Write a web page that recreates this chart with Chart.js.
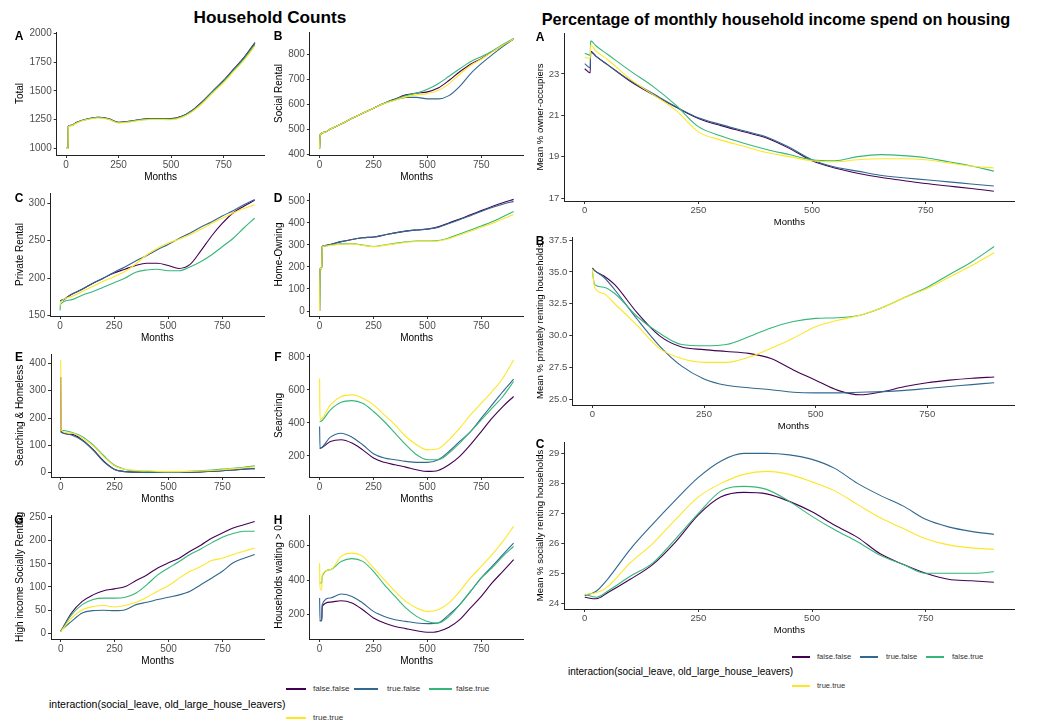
<!DOCTYPE html>
<html>
<head>
<meta charset="utf-8">
<script src="https://cdn.jsdelivr.net/npm/chart.js@4.4.1/dist/chart.umd.min.js"></script>
<style>
  html,body{margin:0;padding:0;background:#fff;}
  body{position:relative;width:1037px;height:724px;overflow:hidden;font-family:"Liberation Sans",Arial,sans-serif;}
  canvas{position:absolute;}
  .lbl{position:absolute;white-space:nowrap;line-height:1;color:#000;}
  .ttl{font-weight:bold;transform:translate(-50%,-50%);}
  .tag{font-weight:bold;font-size:12px;transform:translate(-50%,-50%);z-index:5;}
  .key{position:absolute;height:1.3px;}
  .ktx{position:absolute;color:#333;transform:translateY(-50%);white-space:nowrap;line-height:1;}
  .ltl{position:absolute;transform:translateY(-50%);white-space:nowrap;line-height:1;color:#000;}
</style>
</head>
<body>
<div class="lbl ttl" style="left:270px;top:18px;font-size:17.2px">Household Counts</div>
<div class="lbl ttl" style="left:776px;top:19px;font-size:16.3px">Percentage of monthly household income spend on housing</div>
<div class="lbl tag" style="left:19px;top:36px">A</div>
<div class="lbl tag" style="left:278px;top:36px">B</div>
<div class="lbl tag" style="left:19px;top:198px">C</div>
<div class="lbl tag" style="left:278px;top:198px">D</div>
<div class="lbl tag" style="left:19px;top:357px">E</div>
<div class="lbl tag" style="left:278px;top:357px">F</div>
<div class="lbl tag" style="left:19px;top:520px">G</div>
<div class="lbl tag" style="left:278px;top:520px">H</div>
<div class="lbl tag" style="left:540px;top:37px">A</div>
<div class="lbl tag" style="left:540px;top:241px">B</div>
<div class="lbl tag" style="left:540px;top:444px">C</div>
<script>
// series names and colours (viridis, 4 levels)
const LEGEND = ['false.false','true.false','false.true','true.true'];
const COLORS = ['#440154','#31688E','#35B779','#FDE725'];
const XTICKS = [0,250,500,750];

// A: Total
const totalX  = [0,9,10,25,50,100,150,200,250,300,350,400,450,500,550,600,650,700,750,800,850,900];
const totalFF = [1000,1000,1190,1200,1226,1255,1270,1258,1226,1235,1249,1258,1258,1258,1278,1330,1408,1500,1590,1692,1795,1920];
const totalTF = [1000,1000,1190,1200,1225,1254,1269,1257,1225,1234,1248,1257,1257,1257,1276,1327,1404,1496,1585,1687,1790,1912];
const totalFT = [1000,1000,1188,1198,1223,1253,1268,1255,1223,1232,1245,1254,1254,1253,1273,1323,1398,1490,1578,1678,1780,1900];
const totalTT = [1000,1000,1185,1195,1220,1250,1264,1252,1220,1228,1242,1250,1250,1249,1268,1317,1392,1484,1570,1670,1770,1890];
const totalTicks = [1000,1250,1500,1750,2000];

// B: Social Rental
const socX  = [0,3,25,50,100,150,200,250,300,350,400,450,500,550,600,650,700,750,800,850,900];
const socFF = [425,480,490,502,522,545,565,585,605,622,638,645,650,665,695,730,760,782,810,835,860];
const socTF = [425,480,490,502,522,545,565,585,605,618,628,628,622,622,635,672,722,762,797,830,860];
const socFT = [425,480,490,502,522,545,565,585,605,620,635,645,660,682,712,742,770,790,812,838,862];
const socTT = [425,480,490,502,522,545,565,585,604,617,630,638,643,655,682,720,755,780,808,835,860];
const socTicks = [400,500,600,700,800];

// C: Private Rental
const privX  = [0,2,50,100,150,200,250,300,350,400,450,500,550,600,650,700,750,800,850,900];
const privFF = [170,170,178,185,193,200,207,212,217,220,220,217,213,218,236,256,273,287,296,304];
const privTF = [170,170,178,185,193,200,208,215,223,230,238,245,253,260,268,275,283,290,298,305];
const privFT = [157,165,171,177,182,188,194,200,208,211,212,210,210,215,222,231,242,253,267,280];
const privTT = [163,167,175,182,189,196,202,209,219,231,240,247,252,258,265,273,280,287,293,298];
const privTicks = [150,200,250,300];

// D: Home-Owning
const ownX  = [0,2,10,12,25,50,100,150,200,250,300,350,400,450,500,550,600,650,700,750,800,850,900];
const ownFF = [0,195,192,292,297,302,315,325,333,336,345,355,363,368,372,382,400,418,437,456,475,492,507];
const ownTF = [0,195,192,292,297,302,315,325,333,336,345,355,363,368,372,380,397,415,433,452,470,485,498];
const ownFT = [0,195,192,290,295,300,305,306,300,293,300,307,314,318,318,320,332,350,368,386,405,428,452];
const ownTT = [0,195,192,290,295,298,303,305,298,292,298,305,312,316,316,318,328,345,362,380,398,418,438];
const ownTicks = [0,100,200,300,400,500];

// E: Searching & Homeless
const homeX  = [0,2,50,100,150,200,250,300,350,400,450,500,550,600,650,700,750,800,850,900];
const homeFF = [350,150,140,120,85,42,12,4,2,1,1,1,1,2,3,5,7,10,13,15];
const homeTF = [150,148,138,118,83,40,12,4,2,1,1,1,1,2,3,5,7,10,13,15];
const homeFT = [155,155,148,132,102,62,27,12,7,5,4,3,4,5,7,10,13,16,20,25];
const homeTT = [412,155,145,127,98,58,25,12,8,7,5,4,4,5,6,8,11,15,18,22];
const homeTicks = [0,100,200,300,400];

// F: Searching
const searchX  = [0,2,50,100,150,200,250,300,350,400,450,500,550,600,650,700,750,800,850,900];
const searchFF = [246,246,287,297,277,236,186,160,145,131,115,105,111,145,196,267,347,428,499,560];
const searchTF = [378,246,313,337,313,267,212,186,176,166,160,160,176,226,287,347,428,509,590,665];
const searchFT = [408,408,479,525,535,519,469,408,337,267,206,176,176,216,277,347,418,489,560,651];
const searchTT = [670,418,509,560,570,550,509,448,388,317,267,236,242,297,368,448,519,590,671,782];
const searchTicks = [200,400,600,800];

// G: High income Socially Renting
const hiX  = [0,50,100,150,200,250,300,350,400,450,500,550,600,650,700,750,800,850,900];
const hiFF = [4,44,69,83,92,96,101,114,126,141,152,162,177,190,205,216,227,234,241];
const hiTF = [6,26,44,49,50,49,51,62,67,73,78,83,91,105,119,134,152,162,170];
const hiFT = [4,40,62,73,76,76,78,87,105,126,141,155,170,182,195,207,215,220,220];
const hiTT = [3,33,51,58,60,57,60,67,78,91,103,119,134,144,157,162,170,177,184];
const hiTicks = [0,50,100,150,200,250];

// H: Households waiting
const waitX  = [0,2,10,12,50,100,150,200,250,300,350,400,450,500,550,600,650,700,750,800,850,900];
const waitFF = [165,165,165,248,273,281,268,229,181,152,132,119,107,98,103,127,171,239,306,384,451,519];
const waitTF = [297,165,165,258,297,320,306,268,219,190,171,161,152,148,152,200,258,335,413,480,548,615];
const waitFT = [384,384,384,422,461,509,525,509,451,374,306,239,190,161,152,190,258,335,413,471,538,596];
const waitTT = [500,345,345,432,461,538,557,538,471,403,335,277,239,219,229,268,335,413,480,548,625,712];
const waitTicks = [200,400,600];

// right A: owner-occupiers %
const pOwnX  = [0,12,13,25,50,100,150,200,250,300,350,400,450,500,550,600,650,700,750,800,850,900];
const pOwnFF = [23.25,23.05,24.1,23.85,23.45,22.65,22.0,21.4,20.85,20.5,20.2,19.9,19.4,18.8,18.45,18.2,18.0,17.85,17.7,17.58,17.46,17.33];
const pOwnTF = [23.5,23.3,24.05,23.85,23.45,22.68,22.05,21.42,20.88,20.55,20.25,19.95,19.45,18.85,18.5,18.3,18.1,17.98,17.88,17.78,17.68,17.58];
const pOwnFT = [24.0,23.9,24.6,24.35,23.95,23.15,22.4,21.5,20.45,20.0,19.65,19.35,19.1,18.85,18.8,19.0,19.1,19.05,18.95,18.75,18.55,18.3];
const pOwnTT = [23.8,23.75,24.4,24.1,23.7,22.75,22.0,21.25,20.2,19.8,19.5,19.2,19.0,18.8,18.75,18.85,18.9,18.9,18.85,18.7,18.55,18.45];
const pOwnTicks = [17,19,21,23];

// right B: privately renting %
const pPrivX  = [0,5,25,50,100,150,200,250,300,350,400,450,500,550,600,650,700,750,800,850,900];
const pPrivFF = [35.3,35.1,34.7,34.0,31.8,30.0,29.1,28.9,28.75,28.6,28.2,27.3,26.5,25.7,25.35,25.6,26.0,26.3,26.5,26.65,26.75];
const pPrivTF = [35.3,35.1,34.6,33.6,31.3,29.2,27.6,26.6,26.1,25.9,25.75,25.55,25.5,25.5,25.55,25.6,25.7,25.85,26.0,26.15,26.3];
const pPrivFT = [35.0,34.0,33.8,33.3,31.5,30.2,29.3,29.2,29.3,29.9,30.6,31.1,31.35,31.4,31.6,32.2,33.0,33.8,34.8,35.8,37.0];
const pPrivTT = [35.2,33.8,33.3,32.5,30.8,29.0,28.2,27.9,27.9,28.3,29.0,29.8,30.7,31.2,31.6,32.2,33.0,33.7,34.6,35.5,36.5];
const pPrivTicks = [25,27.5,30,32.5,35,37.5];

// right C: socially renting %
const pSocX  = [0,25,50,100,150,200,250,300,350,400,450,500,550,600,650,700,750,800,850,900];
const pSocFF = [24.2,24.15,24.35,24.8,25.3,26.05,26.95,27.55,27.7,27.65,27.4,27.05,26.6,26.2,25.65,25.3,25.0,24.8,24.75,24.7];
const pSocTF = [24.25,24.4,24.8,25.8,26.65,27.45,28.2,28.75,29.0,29.0,28.95,28.8,28.5,28.0,27.6,27.25,26.8,26.55,26.4,26.3];
const pSocFT = [24.3,24.2,24.4,24.9,25.35,26.15,27.0,27.75,27.9,27.8,27.4,26.9,26.45,26.05,25.6,25.3,25.0,25.0,25.0,25.05];
const pSocTT = [24.3,24.35,24.55,25.35,26.0,26.8,27.55,28.0,28.3,28.4,28.3,28.05,27.75,27.3,26.85,26.5,26.15,25.95,25.85,25.8];
const pSocTicks = [24,25,26,27,28,29];

function panel(g, xs, ys, yMin, yMax, yTicks, yTitle, fs, fmt){
  const c = document.createElement('canvas');
  const left = Math.round(g.tx - fs*0.6);
  const top = Math.round(g.T - 16);
  const bottom = Math.round(g.ty + fs*0.6);
  const w = Math.round(g.R + 6 - left), h = bottom - top;
  c.width = w; c.height = h;
  c.style.left = left+'px'; c.style.top = top+'px';
  c.style.width = w+'px'; c.style.height = h+'px';
  document.body.appendChild(c);
  const tickFont = {family:'"Liberation Sans", Arial, sans-serif', size:fs};
  const axisCommon = {
    grid:{display:true, drawOnChartArea:false, drawTicks:true, tickLength:3, color:'#333', lineWidth:1},
    border:{display:true, color:'#222', width:1}
  };
  new Chart(c, {
    type:'line',
    data:{datasets: ys.map((y,i)=>({
      label: LEGEND[i],
      data: xs.map((x,j)=>({x:x, y:y[j]})),
      borderColor: COLORS[i], borderWidth:1.1, pointRadius:0, fill:false,
      order: 4-i, cubicInterpolationMode:'monotone'
    }))},
    options:{
      responsive:false, animation:false, events:[],
      layout:{padding:{top:g.T-top, right:left+w-g.R, left:0, bottom:0}},
      plugins:{legend:{display:false}, tooltip:{enabled:false}},
      scales:{
        x:Object.assign({type:'linear', min:-45, max:945,
          afterBuildTicks:s=>{ s.ticks = XTICKS.map(v=>({value:v})); },
          afterFit:s=>{ s.height = bottom - g.B; },
          ticks:{color:'#4d4d4d', font:tickFont, padding:1, maxRotation:0, autoSkip:false},
          title:{display:true, text:'Months', color:'#000', font:tickFont, padding:0}
        }, axisCommon),
        y:Object.assign({type:'linear', min:yMin, max:yMax,
          afterBuildTicks:s=>{ s.ticks = yTicks.map(v=>({value:v})); },
          afterFit:s=>{ s.width = g.L - left; },
          ticks:{color:'#4d4d4d', font:tickFont, padding:2, autoSkip:false,
            callback:v=> fmt ? fmt(v) : String(v)},
          title:{display:true, text:yTitle, color:'#000', font:tickFont, padding:0}
        }, axisCommon)
      }
    }
  });
}

panel({L:56.7,T:32,R:264.4,B:155,tx:20.4,ty:177}, totalX, [totalFF,totalTF,totalFT,totalTT], 942, 2011, totalTicks, 'Total', 10);
panel({L:309.9,T:32,R:523.3,B:155,tx:279.3,ty:177}, socX, [socFF,socTF,socFT,socTT], 399, 888, socTicks, 'Social Rental', 10);
panel({L:50.3,T:193,R:264.4,B:316,tx:20.4,ty:338}, privX, [privFF,privTF,privFT,privTT], 149.5, 313.7, privTicks, 'Private Rental', 10);
panel({L:309.9,T:193,R:523.3,B:316,tx:279.3,ty:338}, ownX, [ownFF,ownTF,ownFT,ownTT], -22.7, 536, ownTicks, 'Home-Owning', 10);
panel({L:51,T:354,R:264.4,B:477,tx:20.4,ty:499}, homeX, [homeFF,homeTF,homeFT,homeTT], -15.7, 434, homeTicks, 'Searching & Homeless', 10);
panel({L:309.9,T:354,R:523.3,B:477,tx:279.3,ty:499}, searchX, [searchFF,searchTF,searchFT,searchTT], 71, 818, searchTicks, 'Searching', 10);
panel({L:51,T:515,R:264.4,B:639,tx:20.4,ty:661}, hiX, [hiFF,hiTF,hiFT,hiTT], -12, 255, hiTicks, 'High income Socially Renting', 10);
panel({L:309.9,T:515,R:523.3,B:639,tx:279.3,ty:661}, waitX, [waitFF,waitTF,waitFT,waitTT], 59, 778, waitTicks, 'Households waiting > 0', 10);

panel({L:564.3,T:33,R:1014.3,B:201,tx:541,ty:222}, pOwnX, [pOwnFF,pOwnTF,pOwnFT,pOwnTT], 16.855, 24.98, pOwnTicks, 'Mean % owner-occupiers', 9.5);
panel({L:572.3,T:237,R:1014.3,B:405,tx:541,ty:426}, pPrivX, [pPrivFF,pPrivTF,pPrivFT,pPrivTT], 24.55, 37.74, pPrivTicks, 'Mean % privately renting households', 9.5, v=>v.toFixed(1));
panel({L:564.3,T:442,R:1014.3,B:609,tx:541,ty:630}, pSocX, [pSocFF,pSocTF,pSocFT,pSocTT], 23.81, 29.38, pSocTicks, 'Mean % socially renting households', 9.5);

// legends
function legend(keys, rows, titlePos, fs, tfs){
  LEGEND.forEach((name,i)=>{
    const k = keys[i], y = rows[i];
    const sw = document.createElement('div');
    sw.className = 'key';
    sw.style.cssText = `left:${k[0]}px;top:${y-0.6}px;width:${k[1]-k[0]}px;background:${COLORS[i]}`;
    document.body.appendChild(sw);
    const t = document.createElement('div');
    t.className = 'ktx';
    t.style.cssText = `left:${k[2]}px;top:${y}px;font-size:${fs}px`;
    t.textContent = name;
    document.body.appendChild(t);
  });
  const tt = document.createElement('div');
  tt.className = 'ltl';
  tt.style.cssText = `left:${titlePos[0]}px;top:${titlePos[1]}px;font-size:${tfs}px`;
  tt.textContent = 'interaction(social_leave, old_large_house_leavers)';
  document.body.appendChild(tt);
}
legend([[286,306,313],[354,378,387],[429,452,456],[286,306,313]], [689,689,689,718], [49,704], 8.1, 10.5);
legend([[792,810,817],[860,878,886],[926,944,952],[792,810,817]], [657,657,657,686], [568,672], 7.6, 10);
</script>
</body>
</html>
